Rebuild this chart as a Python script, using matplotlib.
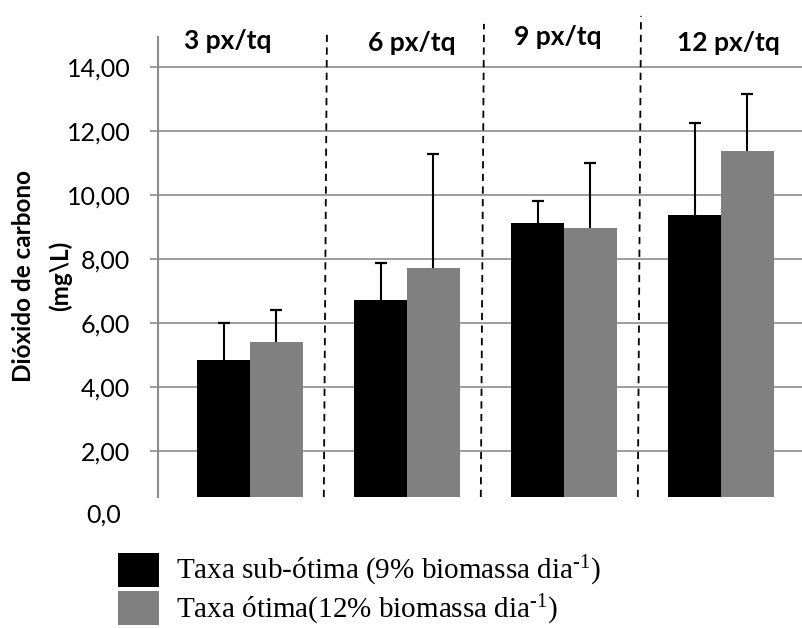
import matplotlib
matplotlib.use("Agg")
import matplotlib.pyplot as plt
import matplotlib.transforms as mtransforms
from matplotlib.patches import Patch
import numpy as np

# ---- data ----
groups = ["3 px/tq", "6 px/tq", "9 px/tq", "12 px/tq"]
sub_otima = [4.83, 6.71, 9.14, 9.37]
sub_otima_err = [1.18, 1.18, 0.67, 2.88]
otima = [5.41, 7.71, 8.98, 11.37]
otima_err = [1.00, 3.58, 2.02, 1.78]
yticks = [2, 4, 6, 8, 10, 12, 14]
ytick_labels = ["2,00", "4,00", "6,00", "8,00", "10,00", "12,00", "14,00"]
series_labels = ["Taxa sub-ótima (9% biomassa dia$^{\\text{-1}}$)",
                 "Taxa ótima(12% biomassa dia$^{\\text{-1}}$)"]
ylabel = "Dióxido de carbono\n(mg\\L)"

plt.rcParams['mathtext.fontset'] = 'custom'
plt.rcParams['mathtext.rm'] = 'Liberation Serif'
plt.rcParams['mathtext.it'] = 'Liberation Serif:italic'

fig = plt.figure(figsize=(8.03, 6.28), dpi=100)
ax = fig.add_axes([158/803, 1-497/628, 1-158/803, (497-37)/628])

x = np.arange(len(groups))
w = 0.337
xs = [x - w/2, x + w/2]
vals = [sub_otima, otima]
errs = [sub_otima_err, otima_err]
colors = ['black', '#808080']
for xi, v, e, c in zip(xs, vals, errs, colors):
    ax.bar(xi, v, w, color=c, zorder=3)
    tops = np.array(v) + np.array(e)
    ax.vlines(xi, v, tops, color='black', linewidth=1.5, zorder=4)
    ax.plot(xi, tops, linestyle='none', marker='_', markersize=8,
            markeredgewidth=1.6, color='black', zorder=4)

ax.set_xlim(-0.586, 3.522)
ax.set_ylim(0.5625, 14.94)
ax.set_yticks(yticks)
ax.set_yticklabels(ytick_labels, fontfamily='Lato', fontsize=18)
ax.set_xticks([])
ax.grid(axis='y', color='#8c8c8c', linewidth=1.2, zorder=0)
for s in ['top', 'right', 'bottom']:
    ax.spines[s].set_visible(False)
ax.spines['left'].set_color('#8c8c8c')
ax.spines['left'].set_linewidth(1.5)
ax.tick_params(axis='y', direction='out', length=6, width=1.2, color='#8c8c8c',
               pad=14, labelcolor='black')

# partially visible 0 label
trans0 = mtransforms.blended_transform_factory(fig.transFigure, ax.transData)
ax.text(86/803, 0, "0,0", transform=trans0, ha='left', va='center',
        fontfamily='Lato', fontsize=18, clip_on=False)

# separators
for i in range(len(groups) - 1):
    ax.plot([i + 0.47, i + 0.49], [0.5625, 15.1 + 0.25*i], color='black',
            linestyle=(0, (4, 3)), linewidth=1.3, clip_on=False, zorder=4)

# group labels
label_y = [14.82, 14.76, 14.94, 14.76]
label_x = [-0.14, 1.03, 1.96, 3.05]
for lx, ly, g in zip(label_x, label_y, groups):
    ax.text(lx, ly, g, ha='center', va='center', fontfamily='Lato',
            fontweight='bold', fontsize=19, clip_on=False, zorder=5)

fig.text(42/803, 1-276/628, ylabel, rotation=90, ha='center', va='center',
         fontfamily='Lato', fontweight='bold', fontsize=17.5, linespacing=1.65,
         multialignment='center')

handles = [Patch(facecolor='black'), Patch(facecolor='#808080')]
fig.legend(handles, series_labels, loc='upper left',
           bbox_to_anchor=(106/803, 1-541/628), frameon=False,
           prop={'family': 'Liberation Serif', 'size': 21},
           handlelength=1.42, handleheight=1.42, handletextpad=0.58,
           labelspacing=0.1, borderaxespad=0)

fig.savefig("out.png", dpi=100)
